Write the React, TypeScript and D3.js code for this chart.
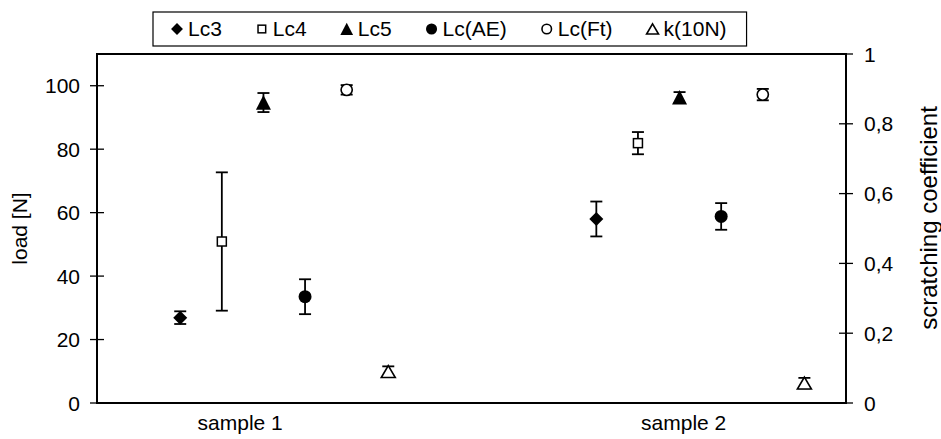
import React from 'react'
import * as d3 from 'd3'

const categories = ['sample 1', 'sample 2']
const seriesNames = ['Lc3', 'Lc4', 'Lc5', 'Lc(AE)', 'Lc(Ft)', 'k(10N)']
// mean values per series, [sample 1, sample 2]
const lc3 = [26.9, 58.0]
const lc4 = [50.9, 81.9]
const lc5 = [94.7, 96.3]
const lcAE = [33.5, 58.8]
const lcFt = [98.7, 97.2]
const k10N = [0.09, 0.057]
// error half-widths
const lc3Err = [2.0, 5.5]
const lc4Err = [21.8, 3.5]
const lc5Err = [3.0, 1.7]
const lcAEErr = [5.5, 4.2]
const lcFtErr = [1.5, 1.8]
const k10NErr = [0.015, 0.015]
const leftTicks = [0, 20, 40, 60, 80, 100]
const rightTicks = [0, 0.2, 0.4, 0.6, 0.8, 1]

const width = 941
const height = 439
const plot = { left: 97, right: 846, top: 54, bottom: 403 }
const font = '"Liberation Sans", Arial, sans-serif'
const fs = 21

// x layout in slot units: 18 slots across the plot
const groupStart = [2, 12]
const labelSlot = [3.44, 14.1]

const x = d3.scaleLinear().domain([0, 18]).range([plot.left, plot.right])
const yL = d3.scaleLinear().domain([0, 110]).range([plot.bottom, plot.top])
const yR = d3.scaleLinear().domain([0, 1]).range([plot.bottom, plot.top])

type Series = { name: string; values: number[]; errs: number[]; axis: 'L' | 'R'; marker: string }
const series: Series[] = [
  { name: seriesNames[0], values: lc3, errs: lc3Err, axis: 'L', marker: 'diamond' },
  { name: seriesNames[1], values: lc4, errs: lc4Err, axis: 'L', marker: 'square' },
  { name: seriesNames[2], values: lc5, errs: lc5Err, axis: 'L', marker: 'triangle' },
  { name: seriesNames[3], values: lcAE, errs: lcAEErr, axis: 'L', marker: 'circle' },
  { name: seriesNames[4], values: lcFt, errs: lcFtErr, axis: 'L', marker: 'ocircle' },
  { name: seriesNames[5], values: k10N, errs: k10NErr, axis: 'R', marker: 'otriangle' },
]

const Marker = ({ type, cx, cy, legend = false }: { type: string; cx: number; cy: number; legend?: boolean }) => {
  const s = legend ? 0.85 : 1
  switch (type) {
    case 'diamond': {
      const r = 7 * s
      return <path d={`M${cx},${cy - r}L${cx + r},${cy}L${cx},${cy + r}L${cx - r},${cy}Z`} fill="#000" />
    }
    case 'square': {
      const r = 4.5 * s
      return <rect x={cx - r} y={cy - r} width={2 * r} height={2 * r} fill="#fff" stroke="#000" strokeWidth={1.5} />
    }
    case 'triangle': {
      const r = 7.5 * s
      return <path d={`M${cx},${cy - r}L${cx + r},${cy + r * 0.95}L${cx - r},${cy + r * 0.95}Z`} fill="#000" />
    }
    case 'circle':
      return <circle cx={cx} cy={cy} r={6.5 * s} fill="#000" />
    case 'ocircle':
      return <circle cx={cx} cy={cy} r={5.6 * s} fill="#fff" stroke="#000" strokeWidth={1.6} />
    default: {
      const r = 7 * s
      return (
        <path
          d={`M${cx},${cy - r * 0.85}L${cx + r},${cy + r * 0.85}L${cx - r},${cy + r * 0.85}Z`}
          fill="#fff"
          stroke="#000"
          strokeWidth={1.6}
        />
      )
    }
  }
}

const legendWidths = [1.612, 1.612, 1.612, 3.056, 2.611, 3.0]
const legendGap = 40

const App = () => {
  // legend layout
  let lx = 177
  const legendItems = series.map((s, i) => {
    const item = { s, mx: lx, tx: lx + 11 }
    lx = lx + 11 + legendWidths[i] * fs + legendGap
    return item
  })
  const legendRight = lx - legendGap + 20

  return (
    <svg width={width} height={height} style={{ display: 'block', position: 'absolute', left: 0, top: 0 }} fontFamily={font}>
      <rect width={width} height={height} fill="#fff" />
      {/* plot frame */}
      <rect x={plot.left} y={plot.top} width={plot.right - plot.left} height={plot.bottom - plot.top} fill="none" stroke="#000" strokeWidth={2} />
      {/* left axis ticks */}
      {leftTicks.map((t) => (
        <g key={'l' + t}>
          <line x1={plot.left - 7} x2={plot.left + 7} y1={yL(t)} y2={yL(t)} stroke="#000" strokeWidth={1.3} />
          <text x={plot.left - 17} y={yL(t)} dy="0.36em" textAnchor="end" fontSize={fs}>
            {t}
          </text>
        </g>
      ))}
      {/* right axis ticks */}
      {rightTicks.map((t) => (
        <g key={'r' + t}>
          <line x1={plot.right - 7} x2={plot.right + 7} y1={yR(t)} y2={yR(t)} stroke="#000" strokeWidth={1.3} />
          <text x={plot.right + 18} y={yR(t)} dy="0.36em" textAnchor="start" fontSize={fs}>
            {String(t).replace('.', ',')}
          </text>
        </g>
      ))}
      {/* category labels */}
      {categories.map((c, i) => (
        <text key={c} x={x(labelSlot[i])} y={430} textAnchor="middle" fontSize={fs}>
          {c}
        </text>
      ))}
      {/* axis titles */}
      <text transform={`translate(27,${(plot.top + plot.bottom) / 2}) rotate(-90)`} textAnchor="middle" fontSize={fs}>
        load [N]
      </text>
      <text transform={`translate(937,218) rotate(-90)`} textAnchor="middle" fontSize={24}>
        scratching coefficient
      </text>
      {/* series */}
      {series.map((s, si) => {
        const y = s.axis === 'L' ? yL : yR
        return (
          <g key={s.name}>
            {s.values.map((v, ci) => {
              const cx = x(groupStart[ci] + si)
              const y0 = y(v - s.errs[ci])
              const y1 = y(v + s.errs[ci])
              return (
                <g key={ci}>
                  <line x1={cx} x2={cx} y1={y0} y2={y1} stroke="#000" strokeWidth={1.8} />
                  <line x1={cx - 6} x2={cx + 6} y1={y0} y2={y0} stroke="#000" strokeWidth={1.8} />
                  <line x1={cx - 6} x2={cx + 6} y1={y1} y2={y1} stroke="#000" strokeWidth={1.8} />
                  <Marker type={s.marker} cx={cx} cy={y(v)} />
                </g>
              )
            })}
          </g>
        )
      })}
      {/* legend */}
      <rect x={153} y={12} width={legendRight - 153} height={34} fill="#fff" stroke="#000" strokeWidth={1.2} />
      {legendItems.map(({ s, mx, tx }) => (
        <g key={'lg' + s.name}>
          <Marker type={s.marker} cx={mx} cy={29} legend />
          <text x={tx} y={36} fontSize={fs}>
            {s.name}
          </text>
        </g>
      ))}
    </svg>
  )
}

export default App
